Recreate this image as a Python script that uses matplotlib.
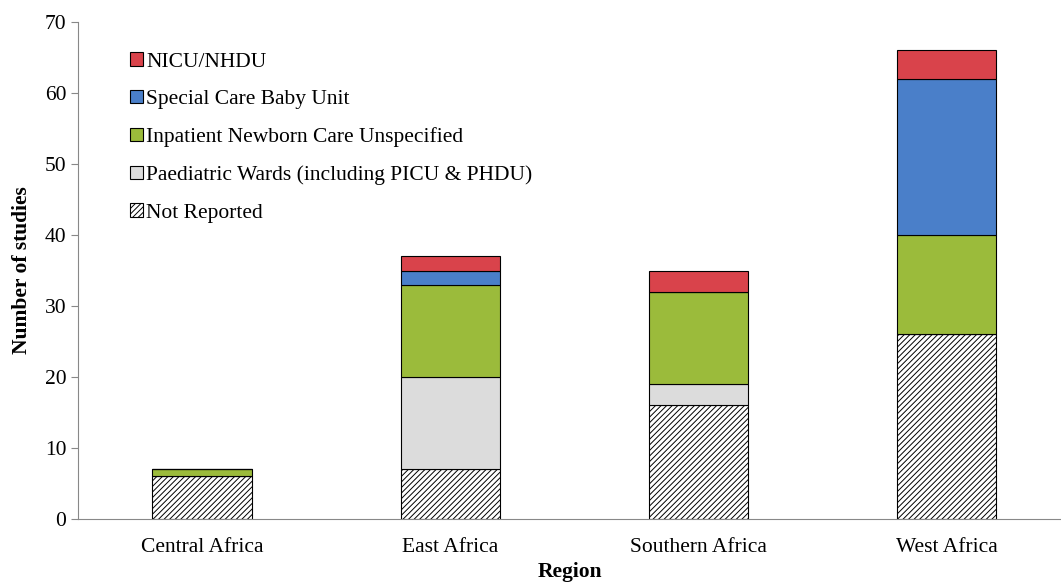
import numpy as np
import matplotlib
matplotlib.use('Agg')
import matplotlib.pyplot as plt

plt.rcParams['font.family'] = ['Liberation Serif', 'DejaVu Serif']
plt.rcParams['hatch.linewidth'] = 0.7

# data
regions = ['Central Africa', 'East Africa', 'Southern Africa', 'West Africa']
not_reported = [6, 7, 16, 26]
paediatric = [0, 13, 3, 0]
inpatient = [1, 13, 13, 14]
scbu = [0, 2, 0, 22]
nicu = [0, 2, 3, 4]

series = [
    ('Not Reported', not_reported, 'white', '//////'),
    ('Paediatric Wards (including PICU & PHDU)', paediatric, '#dcdcdc', None),
    ('Inpatient Newborn Care Unspecified', inpatient, '#9bbb3b', None),
    ('Special Care Baby Unit', scbu, '#4a7fc9', None),
    ('NICU/NHDU', nicu, '#d9434b', None),
]

fig = plt.figure(figsize=(10.61, 5.87), dpi=100)
ax = fig.add_axes([78 / 1061, 68 / 587, 1 - 78 / 1061, 497 / 587])

x = np.arange(len(regions))
bottom = np.zeros(len(regions))
handles = []
for name, vals, col, hatch in series:
    vals = np.array(vals, dtype=float)
    b = ax.bar(x, vals, 0.4, bottom=bottom, color=col, edgecolor='black',
               linewidth=0.8, hatch=hatch, label=name)
    handles.append(b)
    bottom += vals

ax.set_xlim(-0.5, 3.46)
ax.set_ylim(0, 70)
ax.set_yticks(range(0, 71, 10))
ax.set_xticks(x)
ax.set_xticklabels(regions)
ax.tick_params(axis='x', length=0, labelsize=15.5, pad=14)
ax.tick_params(axis='y', direction='out', length=5, labelsize=15.5, color='#888888')
for s in ['top', 'right']:
    ax.spines[s].set_visible(False)
ax.spines['left'].set_color('#888888')
ax.spines['bottom'].set_color('#888888')

ax.set_xlabel('Region', fontweight='bold', fontsize=15.5, labelpad=3)
ax.set_ylabel('Number of studies', fontweight='bold', fontsize=15.5, labelpad=9)

leg = ax.legend(handles[::-1], [s[0] for s in series][::-1], loc='upper left',
                bbox_to_anchor=(0.033, 0.978), frameon=False, fontsize=15.5,
                handlelength=0.6, handleheight=0.6, handletextpad=0.15,
                labelspacing=0.84)

fig.savefig('out.png', dpi=100)
